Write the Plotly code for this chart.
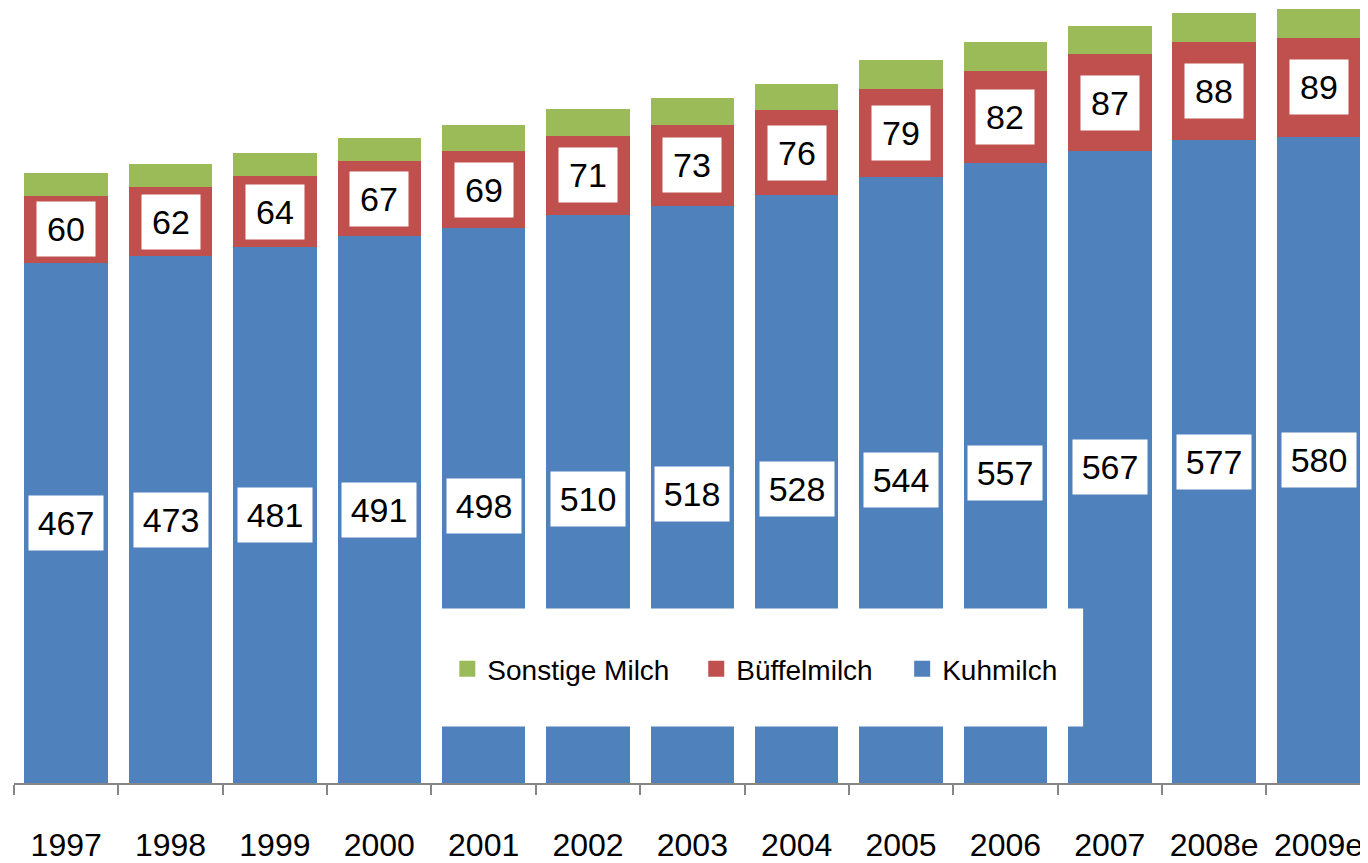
import plotly.graph_objects as go

years = ["1997", "1998", "1999", "2000", "2001", "2002", "2003",
         "2004", "2005", "2006", "2007", "2008e", "2009e"]
kuhmilch = [467, 473, 481, 491, 498, 510, 518, 528, 544, 557, 567, 577, 580]
bueffelmilch = [60, 62, 64, 67, 69, 71, 73, 76, 79, 82, 87, 88, 89]
sonstige = [21, 21, 21, 21, 23.5, 24, 23.5, 23.5, 26, 26, 26, 26, 26]
legend_names = ["Sonstige Milch", "Büffelmilch", "Kuhmilch"]

C_BLUE = "#4F81BD"
C_RED = "#C0504D"
C_GREEN = "#9BBB59"
FONT = "Liberation Sans, Arial, sans-serif"

# page is offset by the default 8px body margin
OFF = 8
W, H = 1368 - OFF, 863 - OFF
ML, MR, MT = 13.5 - OFF, 0, 0
PLOT_BOTTOM = 790  # page px of baseline
PH = PLOT_BOTTOM - OFF - MT
MB = H - MT - PH
PW = W - ML - MR
YMAX = PH / 1.124
XMAX = -0.5 + PW / 104.4

fig = go.Figure()
fig.add_trace(go.Bar(x=years, y=kuhmilch, name="Kuhmilch", marker_color=C_BLUE,
                     marker_line_width=0, showlegend=False))
fig.add_trace(go.Bar(x=years, y=bueffelmilch, name="Büffelmilch", marker_color=C_RED,
                     marker_line_width=0, showlegend=False))
fig.add_trace(go.Bar(x=years, y=sonstige, name="Sonstige Milch", marker_color=C_GREEN,
                     marker_line_width=0, showlegend=False))


def px_x(p):
    return (p - OFF - ML) / PW


def px_y(p):
    return (PLOT_BOTTOM - p) / PH


# legend entries (bigger square symbols), each in its own legend box
legend_cols = [C_GREEN, C_RED, C_BLUE]
legend_sq_x = [467, 716, 922]
legend_layout = {}
for k, (name, col, sx) in enumerate(zip(legend_names, legend_cols, legend_sq_x)):
    lid = "legend" if k == 0 else f"legend{k + 1}"
    fig.add_trace(go.Scatter(x=[None], y=[None], mode="markers", name=name,
                             legend=lid,
                             marker=dict(symbol="square", size=16, color=col)))
    legend_layout[lid] = dict(orientation="h", x=px_x(sx - 20), y=px_y(675),
                              xanchor="left", yanchor="middle",
                              bgcolor="rgba(0,0,0,0)",
                              font=dict(family=FONT, size=28, color="black"))

annotations = []
for i, yr in enumerate(years):
    for val, base in [(kuhmilch[i], 0), (bueffelmilch[i], kuhmilch[i])]:
        txt = str(val)
        annotations.append(dict(
            x=i, y=base + val / 2, xref="x", yref="y", text=txt, showarrow=False,
            font=dict(family=FONT, size=34, color="black"),
            bgcolor="white", borderpad=8, width=58 if len(txt) == 3 else 42,
            xanchor="center", yanchor="middle"))

shapes = [dict(type="rect", xref="paper", yref="paper",
               x0=px_x(437), x1=px_x(1083), y0=px_y(733), y1=px_y(614),
               fillcolor="white", line=dict(width=0), layer="above")]

fig.update_layout(
    width=W, height=H,
    margin=dict(l=ML, r=MR, t=MT, b=MB),
    barmode="stack", bargap=0.2,
    plot_bgcolor="white", paper_bgcolor="white",
    font=dict(family=FONT, color="black"),
    xaxis=dict(type="category", range=[-0.5, XMAX], showgrid=False,
               showline=True, linecolor="#868686", linewidth=2,
               ticks="outside", tickson="boundaries", ticklen=10, tickwidth=2,
               tickcolor="#868686", tickfont=dict(family=FONT, size=32, color="black"),
               ticklabelstandoff=33),
    yaxis=dict(range=[0, YMAX], visible=False, showgrid=False, zeroline=False),
    annotations=annotations, shapes=shapes,
    **legend_layout,
)

fig.write_html("out.html")
